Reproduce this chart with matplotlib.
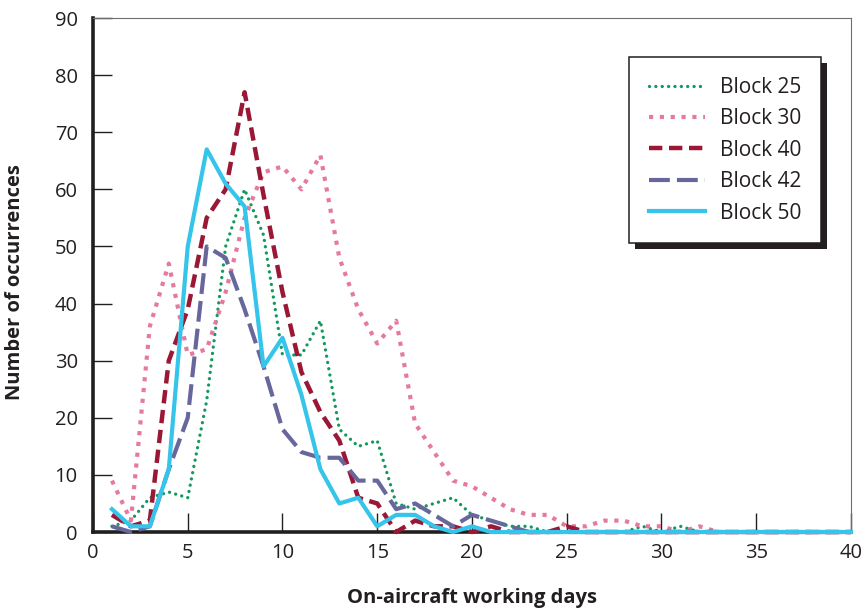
import numpy as np
import matplotlib.pyplot as plt
from matplotlib.patches import Rectangle
from matplotlib.transforms import IdentityTransform

plt.rcParams['font.family'] = ['Open Sans', 'DejaVu Sans']

# On-aircraft working days 1..40
days = list(range(1, 41))

block_25 = [1, 2, 6, 7, 6, 23, 50, 60, 52, 31, 31, 37, 18, 15, 16, 5, 4, 5, 6, 3,
            2, 1, 1, 0, 0, 0, 0, 0, 1, 0, 1, 0, 0, 0, 0, 0, 0, 0, 0, 0]
block_30 = [9, 2, 36, 47, 31, 32, 42, 55, 63, 64, 60, 66, 48, 39, 33, 37, 19, 14, 9, 8,
            6, 4, 3, 3, 1, 1, 2, 2, 1, 1, 0, 1, 0, 0, 0, 0, 0, 0, 0, 0]
block_40 = [3, 1, 2, 30, 39, 55, 60, 77, 59, 42, 28, 21, 16, 6, 5, 0, 2, 1, 1, 0,
            1, 0, 0, 0, 1, 0, 0, 0, 0, 0, 0, 0, 0, 0, 0, 0, 0, 0, 0, 0]
block_42 = [1, 0, 1, 11, 20, 50, 48, 39, 29, 18, 14, 13, 13, 9, 9, 4, 5, 3, 1, 3,
            2, 1, 0, 0, 0, 0, 0, 0, 0, 0, 0, 0, 0, 0, 0, 0, 0, 0, 0, 0]
block_50 = [4, 1, 1, 11, 50, 67, 61, 57, 29, 34, 24, 11, 5, 6, 1, 3, 3, 1, 0, 1,
            0, 0, 0, 0, 0, 0, 0, 0, 0, 0, 0, 0, 0, 0, 0, 0, 0, 0, 0, 0]

fig = plt.figure(figsize=(8.65, 6.09), dpi=100)
ax = fig.add_axes([0.1075, 0.1264, 0.8763, 0.844])

ink = '#231f20'

# Block 25: round green dots
ax.plot(days, block_25, color='#13995f', lw=2.4, linestyle=(0, (0.01, 1.9)),
        dash_capstyle='round', label='Block 25', zorder=3, clip_on=False)
# Block 30: square pink dots
ax.plot(days, block_30, color='#e57a9e', lw=3.0, linestyle=(0, (1.0, 1.6)),
        dash_capstyle='butt', label='Block 30', zorder=3, clip_on=False)
# Block 40: short dashes
ax.plot(days, block_40, color='#9a1735', lw=3.2, linestyle=(0, (3.0, 1.5)),
        label='Block 40', zorder=3, clip_on=False)
# Block 42: long dashes
ax.plot(days, block_42, color='#68679c', lw=3.0, linestyle=(0, (5.0, 1.7)),
        label='Block 42', zorder=3, clip_on=False)
# Block 50: solid
ax.plot(days, block_50, color='#35c4ea', lw=3.0, linestyle='-',
        label='Block 50', zorder=3, clip_on=False)

ax.set_xlim(0, 40)
ax.set_ylim(0, 90)
ax.set_xticks(range(0, 41, 5))
ax.set_yticks(range(0, 91, 10))
ax.tick_params(direction='in', length=14, width=1, color=ink,
               labelsize=14.5, labelcolor=ink)
ax.tick_params(axis='x', pad=8)
ax.tick_params(axis='y', pad=11)

for side in ['left', 'bottom']:
    ax.spines[side].set_linewidth(2.6)
    ax.spines[side].set_color(ink)
for side in ['top', 'right']:
    ax.spines[side].set_linewidth(0.8)
    ax.spines[side].set_color('#6d6e71')

ax.set_xlabel('On-aircraft working days', fontsize=14.5, fontweight='bold', color=ink)
ax.set_ylabel('Number of occurrences', fontsize=14.5, fontweight='bold', color=ink)
ax.xaxis.set_label_coords(0.5, -0.108)
ax.yaxis.set_label_coords(-0.09, 0.486)

leg = ax.legend(loc='upper left', bbox_to_anchor=(0.707, 0.924), borderaxespad=0,
                fontsize=15, handlelength=2.7, handletextpad=0.72,
                labelspacing=0.5, borderpad=0.95, fancybox=False,
                framealpha=1, edgecolor=ink)
leg.get_frame().set_linewidth(1.1)
leg.set_zorder(6)
for t in leg.get_texts():
    t.set_color(ink)

# black drop shadow behind the legend box
fig.canvas.draw()
bb = leg.get_window_extent()
shadow = Rectangle((bb.x0 + 6, bb.y0 - 6), bb.width, bb.height,
                   transform=IdentityTransform(), facecolor=ink,
                   edgecolor='none', zorder=5.5)
ax.add_patch(shadow)

fig.savefig('out.png', dpi=100)
